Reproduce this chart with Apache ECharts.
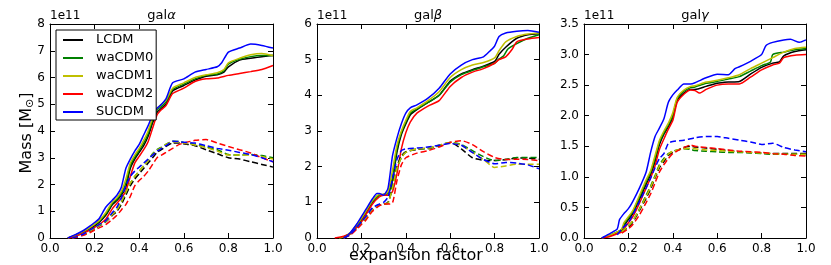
<!DOCTYPE html>
<html>
<head>
<meta charset="utf-8">
<script src="https://cdn.jsdelivr.net/npm/echarts@6/dist/echarts.min.js"></script>
<style>html,body{margin:0;padding:0;background:#fff;}#c{width:831px;height:265px;}</style>
</head>
<body>
<div id="c"></div>
<script>
// Values in units of 1e11 solar masses; x = expansion factor
const models = ['LCDM', 'waCDM0', 'waCDM1', 'waCDM2', 'SUCDM'];
const modelColors = ['#000000', '#008000', '#bfbf00', '#ff0000', '#0000ff'];
const xTicks = [0.0, 0.2, 0.4, 0.6, 0.8, 1.0];
const yTicksAlpha = [0, 1, 2, 3, 4, 5, 6, 7, 8];
const yTicksBeta = [0, 1, 2, 3, 4, 5, 6];
const yTicksGamma = [0.0, 0.5, 1.0, 1.5, 2.0, 2.5, 3.0, 3.5];
const panelTitles = ['α', 'β', 'γ'];

// ---- gal alpha, solid ----
const alphaLCDM = [[0.08,0],[0.10,0.05],[0.12,0.12],[0.15,0.22],[0.18,0.35],[0.20,0.45],[0.22,0.58],[0.25,0.85],[0.28,1.25],[0.30,1.4],[0.32,1.6],[0.34,1.9],[0.36,2.6],[0.38,2.95],[0.40,3.2],[0.42,3.45],[0.44,3.8],[0.46,4.3],[0.48,4.7],[0.50,4.85],[0.52,5.0],[0.55,5.5],[0.60,5.7],[0.65,5.9],[0.70,6.05],[0.75,6.1],[0.78,6.2],[0.80,6.4],[0.85,6.65],[0.90,6.72],[0.95,6.78],[1.00,6.82]];
const alphaWa0 = [[0.08,0],[0.10,0.05],[0.12,0.12],[0.15,0.24],[0.18,0.38],[0.20,0.5],[0.22,0.62],[0.25,0.9],[0.28,1.3],[0.30,1.45],[0.32,1.68],[0.34,2.05],[0.36,2.7],[0.38,3.02],[0.40,3.28],[0.42,3.55],[0.44,3.9],[0.46,4.4],[0.48,4.78],[0.50,4.92],[0.52,5.08],[0.55,5.55],[0.60,5.75],[0.65,5.95],[0.70,6.08],[0.75,6.13],[0.78,6.25],[0.80,6.5],[0.85,6.68],[0.90,6.78],[0.95,6.82],[1.00,6.82]];
const alphaWa1 = [[0.08,0],[0.10,0.06],[0.12,0.13],[0.15,0.25],[0.18,0.4],[0.20,0.52],[0.22,0.65],[0.25,0.95],[0.28,1.35],[0.30,1.5],[0.32,1.75],[0.34,2.2],[0.36,2.8],[0.38,3.1],[0.40,3.35],[0.42,3.65],[0.44,4.0],[0.46,4.5],[0.48,4.85],[0.50,5.0],[0.52,5.15],[0.55,5.6],[0.60,5.8],[0.65,6.0],[0.70,6.1],[0.75,6.18],[0.78,6.3],[0.80,6.55],[0.85,6.72],[0.90,6.85],[0.95,6.9],[1.00,6.82]];
const alphaWa2 = [[0.08,0],[0.10,0.03],[0.12,0.08],[0.15,0.18],[0.18,0.3],[0.20,0.4],[0.22,0.5],[0.25,0.7],[0.28,1.1],[0.30,1.3],[0.32,1.5],[0.34,1.75],[0.36,2.3],[0.38,2.8],[0.40,3.05],[0.42,3.3],[0.44,3.6],[0.46,4.1],[0.48,4.6],[0.50,4.8],[0.52,4.95],[0.55,5.4],[0.60,5.6],[0.65,5.85],[0.70,5.95],[0.75,5.98],[0.80,6.08],[0.85,6.15],[0.90,6.22],[0.95,6.3],[1.00,6.45]];
const alphaSU = [[0.08,0],[0.10,0.08],[0.12,0.15],[0.15,0.28],[0.18,0.45],[0.20,0.58],[0.22,0.72],[0.25,1.15],[0.28,1.42],[0.30,1.6],[0.32,1.9],[0.34,2.6],[0.36,2.95],[0.38,3.25],[0.40,3.5],[0.42,3.85],[0.44,4.2],[0.46,4.6],[0.48,4.85],[0.50,5.0],[0.52,5.2],[0.55,5.8],[0.60,5.95],[0.65,6.2],[0.70,6.3],[0.75,6.4],[0.77,6.55],[0.80,6.95],[0.85,7.1],[0.90,7.25],[0.95,7.2],[1.00,7.1]];
// ---- gal alpha, dashed ----
const alphaLCDMd = [[0.10,0],[0.12,0.04],[0.15,0.12],[0.18,0.25],[0.20,0.35],[0.22,0.45],[0.25,0.6],[0.28,0.85],[0.30,1.0],[0.32,1.25],[0.34,1.6],[0.36,1.95],[0.38,2.2],[0.40,2.4],[0.42,2.6],[0.44,2.8],[0.46,3.0],[0.48,3.2],[0.50,3.3],[0.52,3.42],[0.55,3.55],[0.58,3.55],[0.60,3.52],[0.65,3.45],[0.70,3.3],[0.75,3.15],[0.80,3.0],[0.85,2.95],[0.90,2.85],[0.95,2.75],[1.00,2.65]];
const alphaWa0d = [[0.10,0],[0.12,0.05],[0.15,0.13],[0.18,0.27],[0.20,0.37],[0.22,0.47],[0.25,0.62],[0.28,0.9],[0.30,1.05],[0.32,1.35],[0.34,1.7],[0.36,2.05],[0.38,2.3],[0.40,2.5],[0.42,2.7],[0.44,2.9],[0.46,3.15],[0.48,3.3],[0.50,3.4],[0.52,3.5],[0.55,3.62],[0.58,3.6],[0.60,3.57],[0.65,3.5],[0.70,3.4],[0.75,3.3],[0.80,3.12],[0.85,3.1],[0.90,3.12],[0.95,3.08],[1.00,3.0]];
const alphaWa1d = [[0.10,0],[0.12,0.05],[0.15,0.13],[0.18,0.27],[0.20,0.37],[0.22,0.47],[0.25,0.62],[0.28,0.88],[0.30,1.05],[0.32,1.35],[0.34,1.7],[0.36,2.05],[0.38,2.3],[0.40,2.5],[0.42,2.7],[0.44,2.9],[0.46,3.12],[0.48,3.28],[0.50,3.38],[0.52,3.5],[0.55,3.6],[0.58,3.58],[0.60,3.55],[0.65,3.48],[0.70,3.38],[0.75,3.25],[0.80,3.1],[0.85,3.1],[0.90,3.1],[0.95,3.05],[1.00,2.95]];
const alphaWa2d = [[0.10,0],[0.12,0.03],[0.15,0.1],[0.18,0.2],[0.20,0.3],[0.22,0.38],[0.25,0.5],[0.28,0.7],[0.30,0.85],[0.32,1.05],[0.34,1.25],[0.36,1.55],[0.38,1.95],[0.40,2.15],[0.42,2.3],[0.44,2.5],[0.46,2.75],[0.48,3.0],[0.50,3.1],[0.52,3.2],[0.55,3.35],[0.58,3.5],[0.60,3.55],[0.65,3.65],[0.70,3.68],[0.75,3.55],[0.80,3.42],[0.85,3.3],[0.90,3.18],[0.95,3.0],[1.00,2.85]];
const alphaSUd = [[0.10,0],[0.12,0.05],[0.15,0.15],[0.18,0.3],[0.20,0.4],[0.22,0.5],[0.25,0.65],[0.28,0.95],[0.30,1.15],[0.32,1.5],[0.34,1.95],[0.36,2.3],[0.38,2.5],[0.40,2.65],[0.42,2.8],[0.44,2.95],[0.46,3.1],[0.48,3.25],[0.50,3.35],[0.52,3.45],[0.55,3.62],[0.58,3.6],[0.60,3.58],[0.65,3.55],[0.70,3.45],[0.75,3.35],[0.80,3.28],[0.85,3.2],[0.90,3.12],[0.95,3.0],[1.00,2.85]];

// ---- gal beta, solid ----
const betaLCDM = [[0.10,0],[0.12,0.02],[0.15,0.12],[0.18,0.35],[0.20,0.5],[0.22,0.7],[0.25,1.0],[0.28,1.2],[0.30,1.22],[0.32,1.25],[0.34,1.6],[0.36,2.4],[0.38,2.9],[0.40,3.2],[0.42,3.45],[0.45,3.6],[0.50,3.8],[0.55,4.0],[0.60,4.4],[0.65,4.6],[0.70,4.72],[0.75,4.82],[0.80,4.95],[0.82,5.15],[0.85,5.35],[0.90,5.6],[0.95,5.7],[1.00,5.73]];
const betaWa0 = [[0.10,0],[0.12,0.03],[0.15,0.13],[0.18,0.35],[0.20,0.5],[0.22,0.72],[0.25,1.02],[0.28,1.2],[0.30,1.22],[0.32,1.25],[0.34,1.7],[0.36,2.5],[0.38,2.95],[0.40,3.25],[0.42,3.5],[0.45,3.62],[0.50,3.8],[0.55,4.0],[0.60,4.37],[0.65,4.58],[0.70,4.7],[0.75,4.8],[0.80,4.9],[0.82,5.02],[0.84,5.1],[0.86,5.3],[0.90,5.45],[0.95,5.6],[1.00,5.7]];
const betaWa1 = [[0.10,0],[0.12,0.03],[0.15,0.15],[0.18,0.38],[0.20,0.55],[0.22,0.75],[0.25,1.05],[0.28,1.22],[0.30,1.22],[0.32,1.3],[0.34,1.9],[0.36,2.6],[0.38,3.0],[0.40,3.3],[0.42,3.55],[0.45,3.65],[0.50,3.85],[0.55,4.1],[0.60,4.5],[0.65,4.72],[0.70,4.85],[0.75,4.92],[0.80,5.05],[0.82,5.25],[0.85,5.5],[0.90,5.65],[0.95,5.72],[1.00,5.75]];
const betaWa2 = [[0.08,0],[0.10,0.02],[0.12,0.05],[0.15,0.12],[0.18,0.3],[0.20,0.45],[0.22,0.65],[0.25,0.95],[0.28,1.15],[0.30,1.2],[0.32,1.2],[0.34,1.3],[0.36,1.8],[0.38,2.5],[0.40,2.95],[0.42,3.25],[0.45,3.5],[0.50,3.7],[0.55,3.85],[0.60,4.25],[0.65,4.5],[0.70,4.65],[0.75,4.75],[0.80,4.9],[0.82,5.0],[0.85,5.08],[0.88,5.3],[0.90,5.5],[0.95,5.58],[1.00,5.62]];
const betaSU = [[0.12,0],[0.15,0.15],[0.18,0.4],[0.20,0.6],[0.22,0.8],[0.25,1.1],[0.27,1.25],[0.28,1.25],[0.30,1.2],[0.32,1.4],[0.34,2.3],[0.36,2.8],[0.38,3.2],[0.40,3.5],[0.42,3.65],[0.45,3.73],[0.50,3.92],[0.55,4.2],[0.60,4.6],[0.65,4.85],[0.70,5.0],[0.75,5.08],[0.78,5.25],[0.80,5.38],[0.82,5.65],[0.85,5.75],[0.90,5.8],[0.95,5.82],[1.00,5.77]];
// ---- gal beta, dashed ----
const betaLCDMd = [[0.12,0],[0.15,0.1],[0.18,0.28],[0.20,0.42],[0.22,0.55],[0.25,0.8],[0.28,0.92],[0.30,0.95],[0.32,1.0],[0.34,1.45],[0.36,2.0],[0.38,2.3],[0.40,2.42],[0.45,2.48],[0.50,2.52],[0.55,2.58],[0.60,2.68],[0.65,2.5],[0.70,2.25],[0.75,2.18],[0.80,2.17],[0.85,2.2],[0.90,2.24],[0.95,2.24],[1.00,2.21]];
const betaWa0d = [[0.12,0],[0.15,0.1],[0.18,0.28],[0.20,0.42],[0.22,0.55],[0.25,0.8],[0.28,0.92],[0.30,0.95],[0.32,0.98],[0.34,1.4],[0.36,1.95],[0.38,2.25],[0.40,2.4],[0.45,2.5],[0.50,2.5],[0.55,2.6],[0.60,2.68],[0.65,2.62],[0.70,2.45],[0.75,2.28],[0.80,2.17],[0.85,2.2],[0.90,2.26],[0.95,2.26],[1.00,2.26]];
const betaWa1d = [[0.12,0],[0.15,0.1],[0.18,0.28],[0.20,0.42],[0.22,0.55],[0.25,0.8],[0.28,0.92],[0.30,0.95],[0.32,0.98],[0.34,1.4],[0.36,1.95],[0.38,2.25],[0.40,2.4],[0.45,2.5],[0.50,2.52],[0.55,2.6],[0.60,2.68],[0.65,2.6],[0.70,2.4],[0.75,2.2],[0.80,1.98],[0.85,2.02],[0.90,2.07],[0.95,2.07],[1.00,2.07]];
const betaWa2d = [[0.12,0],[0.15,0.08],[0.18,0.25],[0.20,0.38],[0.22,0.5],[0.25,0.75],[0.28,0.9],[0.30,0.95],[0.32,0.95],[0.34,0.98],[0.36,1.6],[0.38,2.05],[0.40,2.25],[0.45,2.38],[0.50,2.45],[0.55,2.55],[0.60,2.68],[0.65,2.73],[0.70,2.62],[0.75,2.42],[0.80,2.26],[0.85,2.2],[0.90,2.21],[0.95,2.2],[1.00,2.17]];
const betaSUd = [[0.12,0],[0.15,0.1],[0.18,0.3],[0.20,0.45],[0.22,0.6],[0.25,0.85],[0.28,0.95],[0.30,1.0],[0.32,1.15],[0.34,1.65],[0.36,2.2],[0.38,2.45],[0.40,2.5],[0.45,2.52],[0.50,2.55],[0.55,2.6],[0.60,2.65],[0.65,2.6],[0.70,2.4],[0.75,2.2],[0.80,2.08],[0.85,2.12],[0.90,2.1],[0.95,2.05],[1.00,1.94]];

// ---- gal gamma, solid ----
const gammaLCDM = [[0.08,0],[0.10,0.02],[0.12,0.04],[0.15,0.09],[0.17,0.13],[0.18,0.2],[0.20,0.3],[0.22,0.4],[0.25,0.63],[0.28,0.88],[0.30,1.03],[0.32,1.25],[0.34,1.53],[0.36,1.7],[0.38,1.82],[0.40,1.97],[0.42,2.25],[0.45,2.37],[0.48,2.43],[0.50,2.43],[0.55,2.48],[0.60,2.53],[0.65,2.55],[0.70,2.56],[0.75,2.68],[0.80,2.79],[0.85,2.86],[0.88,2.88],[0.90,2.98],[0.95,3.05],[1.00,3.08]];
const gammaWa0 = [[0.08,0],[0.10,0.02],[0.12,0.05],[0.15,0.1],[0.17,0.14],[0.18,0.22],[0.20,0.33],[0.22,0.43],[0.25,0.67],[0.28,0.92],[0.30,1.07],[0.32,1.3],[0.34,1.57],[0.36,1.72],[0.38,1.85],[0.40,2.0],[0.42,2.28],[0.45,2.4],[0.48,2.46],[0.50,2.47],[0.55,2.53],[0.60,2.56],[0.65,2.6],[0.70,2.64],[0.75,2.73],[0.80,2.82],[0.84,2.88],[0.85,3.0],[0.90,3.04],[0.95,3.08],[1.00,3.1]];
const gammaWa1 = [[0.08,0],[0.10,0.02],[0.12,0.05],[0.15,0.1],[0.17,0.15],[0.18,0.25],[0.20,0.35],[0.22,0.45],[0.25,0.7],[0.28,0.95],[0.30,1.1],[0.32,1.35],[0.34,1.6],[0.36,1.75],[0.38,1.88],[0.40,2.05],[0.42,2.3],[0.45,2.42],[0.48,2.48],[0.50,2.49],[0.55,2.55],[0.60,2.58],[0.65,2.62],[0.70,2.67],[0.75,2.77],[0.80,2.86],[0.85,2.95],[0.90,3.04],[0.95,3.1],[1.00,3.12]];
const gammaWa2 = [[0.08,0],[0.10,0.01],[0.12,0.03],[0.15,0.07],[0.17,0.1],[0.18,0.15],[0.20,0.25],[0.22,0.35],[0.25,0.57],[0.28,0.82],[0.30,0.98],[0.32,1.18],[0.34,1.45],[0.36,1.62],[0.38,1.78],[0.40,1.92],[0.42,2.22],[0.45,2.35],[0.48,2.42],[0.50,2.41],[0.52,2.37],[0.55,2.43],[0.60,2.5],[0.65,2.52],[0.70,2.52],[0.75,2.63],[0.80,2.75],[0.85,2.83],[0.88,2.86],[0.90,2.95],[0.95,2.99],[1.00,3.0]];
const gammaSU = [[0.08,0],[0.10,0.04],[0.12,0.08],[0.15,0.15],[0.16,0.3],[0.18,0.4],[0.20,0.48],[0.22,0.6],[0.25,0.82],[0.28,1.08],[0.30,1.4],[0.32,1.66],[0.34,1.8],[0.36,1.95],[0.38,2.22],[0.40,2.34],[0.42,2.42],[0.45,2.52],[0.48,2.52],[0.50,2.54],[0.55,2.62],[0.60,2.68],[0.65,2.67],[0.68,2.77],[0.70,2.8],[0.75,2.89],[0.80,3.0],[0.82,3.15],[0.85,3.2],[0.90,3.24],[0.93,3.25],[0.97,3.2],[1.00,3.24]];
// ---- gal gamma, dashed ----
const gammaLCDMd = [[0.17,0.1],[0.20,0.18],[0.22,0.26],[0.25,0.45],[0.28,0.65],[0.30,0.8],[0.32,0.98],[0.34,1.15],[0.36,1.25],[0.38,1.35],[0.40,1.4],[0.45,1.48],[0.48,1.5],[0.50,1.49],[0.55,1.47],[0.60,1.45],[0.65,1.43],[0.70,1.41],[0.75,1.4],[0.80,1.39],[0.85,1.38],[0.90,1.38],[0.95,1.38],[1.00,1.38]];
const gammaWa0d = [[0.17,0.1],[0.20,0.2],[0.22,0.28],[0.25,0.48],[0.28,0.7],[0.30,0.85],[0.32,1.02],[0.34,1.2],[0.36,1.3],[0.38,1.38],[0.40,1.42],[0.45,1.46],[0.48,1.45],[0.50,1.43],[0.55,1.42],[0.60,1.41],[0.65,1.4],[0.70,1.4],[0.75,1.39],[0.80,1.38],[0.85,1.37],[0.90,1.37],[0.95,1.37],[1.00,1.36]];
const gammaWa1d = [[0.17,0.1],[0.20,0.2],[0.22,0.28],[0.25,0.47],[0.28,0.68],[0.30,0.83],[0.32,1.0],[0.34,1.18],[0.36,1.28],[0.38,1.37],[0.40,1.42],[0.45,1.46],[0.48,1.47],[0.50,1.46],[0.55,1.44],[0.60,1.43],[0.65,1.42],[0.70,1.41],[0.75,1.4],[0.80,1.39],[0.85,1.38],[0.90,1.37],[0.95,1.37],[1.00,1.37]];
const gammaWa2d = [[0.17,0.08],[0.20,0.15],[0.22,0.22],[0.25,0.38],[0.28,0.58],[0.30,0.72],[0.32,0.9],[0.34,1.08],[0.36,1.2],[0.38,1.3],[0.40,1.38],[0.45,1.48],[0.48,1.52],[0.50,1.5],[0.55,1.48],[0.60,1.46],[0.65,1.44],[0.70,1.42],[0.75,1.41],[0.80,1.4],[0.85,1.38],[0.90,1.37],[0.95,1.35],[1.00,1.34]];
const gammaSUd = [[0.15,0.05],[0.17,0.15],[0.20,0.25],[0.22,0.38],[0.25,0.6],[0.28,0.82],[0.30,0.98],[0.32,1.15],[0.34,1.3],[0.36,1.38],[0.38,1.55],[0.40,1.58],[0.45,1.6],[0.50,1.64],[0.55,1.66],[0.60,1.66],[0.65,1.63],[0.70,1.6],[0.75,1.57],[0.80,1.53],[0.85,1.55],[0.90,1.48],[0.95,1.44],[1.00,1.41]];

const panels = [
  { solid: [alphaLCDM, alphaWa0, alphaWa1, alphaWa2, alphaSU], dashed: [alphaLCDMd, alphaWa0d, alphaWa1d, alphaWa2d, alphaSUd], yTicks: yTicksAlpha, dec: 0 },
  { solid: [betaLCDM, betaWa0, betaWa1, betaWa2, betaSU], dashed: [betaLCDMd, betaWa0d, betaWa1d, betaWa2d, betaSUd], yTicks: yTicksBeta, dec: 0 },
  { solid: [gammaLCDM, gammaWa0, gammaWa1, gammaWa2, gammaSU], dashed: [gammaLCDMd, gammaWa0d, gammaWa1d, gammaWa2d, gammaSUd], yTicks: yTicksGamma, dec: 1 }
];

const FONT = 'DejaVu Sans';
const gridBoxes = [
  { left: 50, top: 24, width: 223, height: 214 },
  { left: 317, top: 24, width: 222, height: 214 },
  { left: 584, top: 24, width: 222, height: 214 }
];

const grid = [], xAxis = [], yAxis = [], series = [], graphic = [];
panels.forEach((p, i) => {
  grid.push(gridBoxes[i]);
  const yMin = p.yTicks[0], yMax = p.yTicks[p.yTicks.length - 1];
  const yInt = p.yTicks[1] - p.yTicks[0];
  const line = { show: true, onZero: false, lineStyle: { color: '#000', width: 1 } };
  const tick = { show: true, inside: true, length: 5, lineStyle: { color: '#000', width: 1 } };
  const xLabel = { show: true, color: '#000', fontSize: 12, fontFamily: FONT, margin: 5, formatter: v => v.toFixed(1), showMinLabel: true, showMaxLabel: true };
  const yLabel = { show: true, color: '#000', fontSize: 12, fontFamily: FONT, margin: 5, formatter: v => v.toFixed(p.dec), showMinLabel: true, showMaxLabel: true };
  xAxis.push({ gridIndex: i, type: 'value', position: 'bottom', min: xTicks[0], max: xTicks[xTicks.length - 1], interval: 0.2, axisLine: line, axisTick: tick, axisLabel: xLabel, splitLine: { show: false } });
  xAxis.push({ gridIndex: i, type: 'value', position: 'top', min: xTicks[0], max: xTicks[xTicks.length - 1], interval: 0.2, axisLine: line, axisTick: tick, axisLabel: { show: false }, splitLine: { show: false } });
  yAxis.push({ gridIndex: i, type: 'value', position: 'left', min: yMin, max: yMax, interval: yInt, axisLine: line, axisTick: tick, axisLabel: yLabel, splitLine: { show: false } });
  yAxis.push({ gridIndex: i, type: 'value', position: 'right', min: yMin, max: yMax, interval: yInt, axisLine: line, axisTick: tick, axisLabel: { show: false }, splitLine: { show: false } });
  p.solid.forEach((d, k) => {
    series.push({ type: 'line', name: models[k], xAxisIndex: 2 * i, yAxisIndex: 2 * i, data: d, symbol: 'none', smooth: 0.2, clip: true,
      lineStyle: { color: modelColors[k], width: 1.5 }, itemStyle: { color: modelColors[k] }, z: 3, animation: false });
  });
  p.dashed.forEach((d, k) => {
    series.push({ type: 'line', name: models[k] + ' (dashed)', xAxisIndex: 2 * i, yAxisIndex: 2 * i, data: d, symbol: 'none', smooth: 0.2, clip: true,
      lineStyle: { color: modelColors[k], width: 1.5, type: [6, 3] }, itemStyle: { color: modelColors[k] }, z: 3, animation: false });
  });
  const g = gridBoxes[i];
  graphic.push({ type: 'text', left: g.left, top: 10, style: { text: '1e11', font: '12px "DejaVu Sans"', fill: '#000' } });
  graphic.push({ type: 'text', x: g.left + g.width / 2, y: 16, style: {
    text: '{n|gal}{g|' + panelTitles[i] + '}', align: 'center', verticalAlign: 'middle',
    rich: { n: { fontSize: 13, fontFamily: FONT, fill: '#000' }, g: { fontSize: 13, fontFamily: FONT, fontStyle: 'italic', fill: '#000' } } } });
});

graphic.push({ type: 'text', x: 27, y: 133, rotation: Math.PI / 2, style: {
  text: '{a|Mass [M}{s|⊙}{a|]}', align: 'center', verticalAlign: 'middle',
  rich: { a: { fontSize: 16, fontFamily: FONT, fill: '#000' }, s: { fontSize: 11, fontFamily: FONT, fill: '#000', padding: [7, 0, 0, 0] } } } });
graphic.push({ type: 'text', x: 416, y: 256, style: { text: 'expansion factor', align: 'center', verticalAlign: 'middle', font: '16px "DejaVu Sans"', fill: '#000' } });

const option = {
  backgroundColor: '#fff',
  animation: false,
  grid, xAxis, yAxis, series, graphic,
  legend: {
    data: models.map(m => ({ name: m, icon: 'rect' })), orient: 'vertical', left: 56, top: 30,
    backgroundColor: '#fff', borderColor: '#000', borderWidth: 1, borderRadius: 0,
    padding: [3, 3, 1, 7], itemWidth: 20, itemHeight: 2, itemGap: 4,
    textStyle: { fontSize: 13, fontFamily: FONT, color: '#000', padding: [0, 0, 0, 8], lineHeight: 14, height: 14 },
    selectedMode: false
  }
};
const chart = echarts.init(document.getElementById('c'), null, { renderer: 'canvas' });
chart.setOption(option);
</script>
</body>
</html>
